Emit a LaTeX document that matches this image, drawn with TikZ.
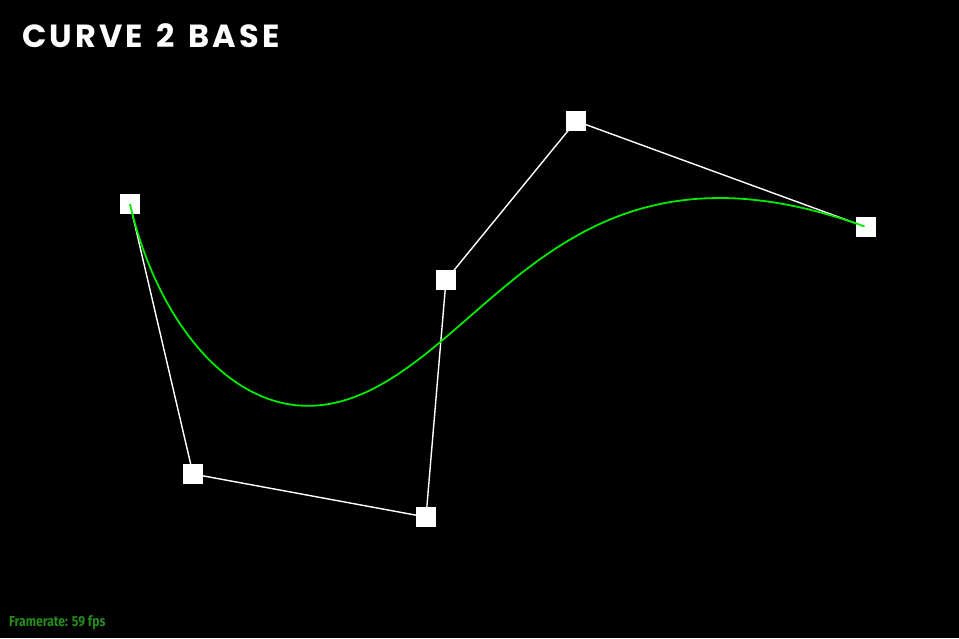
\documentclass[tikz,border=0pt]{standalone}
\usepackage{fontspec}
\newfontfamily\titlefont{Poppins}[LetterSpace=9.5,WordSpace=1.4]
\newfontfamily\fpsfont{Fira Sans}
\definecolor{curvegreen}{RGB}{0,235,0}
\definecolor{fpsgreen}{RGB}{38,140,28}
\begin{document}
\begin{tikzpicture}[x=1pt,y=-1pt,
  ctrl/.style={fill=white,draw=none,minimum size=20pt,inner sep=0pt,outer sep=0pt,rectangle},
  poly/.style={white,line width=1.4pt},
  curve/.style={curvegreen,line width=1.8pt}]
\fill[black] (0,0) rectangle (959,638);
\useasboundingbox (0,0) rectangle (959,638);
\coordinate (p0) at (130,204);
\coordinate (p1) at (193,474);
\coordinate (p2) at (426,517);
\coordinate (p3) at (446,280);
\coordinate (p4) at (576,121);
\coordinate (p5) at (866,227);
\draw[poly] (p0) -- (p1) -- (p2) -- (p3) -- (p4) -- (p5);
\foreach \n in {0,...,5} \node[ctrl] (c\n) at (p\n) {};
\draw[curve] plot[domain=0:1,samples=200,variable=\t,smooth]
 ({(1-\t)^5*130 + 5*(1-\t)^4*\t*193 + 10*(1-\t)^3*\t^2*426 + 10*(1-\t)^2*\t^3*446 + 5*(1-\t)*\t^4*576 + \t^5*866},
  {(1-\t)^5*204 + 5*(1-\t)^4*\t*474 + 10*(1-\t)^3*\t^2*517 + 10*(1-\t)^2*\t^3*280 + 5*(1-\t)*\t^4*121 + \t^5*227});
\node[anchor=base west,inner sep=0pt,text=white,font=\titlefont\bfseries\fontsize{32}{32}\selectfont] (title) at (22,47) {CURVE 2 BASE};
\node[anchor=base west,inner sep=0pt,text=fpsgreen,font=\fpsfont\bfseries\fontsize{14.5}{14.5}\selectfont,xscale=0.84] (fps) at (9,626) {Framerate: 59 fps};
\end{tikzpicture}
\end{document}
